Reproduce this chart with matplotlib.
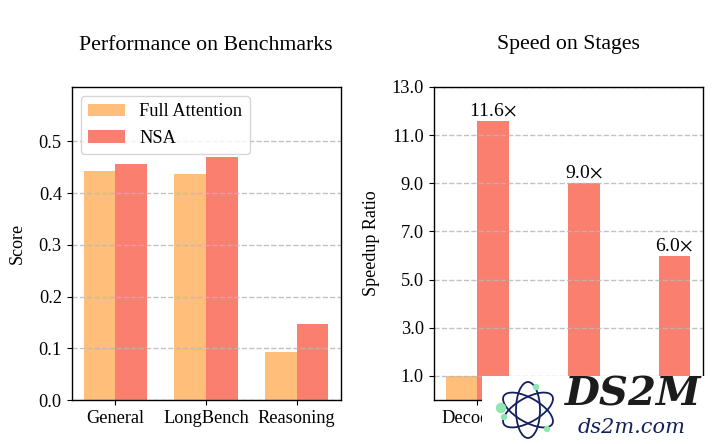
import numpy as np
import matplotlib
matplotlib.use('Agg')
import matplotlib.pyplot as plt
from matplotlib.patches import Ellipse, Circle

plt.rcParams['font.family'] = ['Liberation Serif', 'DejaVu Serif']
plt.rcParams['mathtext.fontset'] = 'stix'

# left panel
bench_names = ['General', 'LongBench', 'Reasoning']
bench_full = [0.443, 0.437, 0.092]
bench_nsa = [0.456, 0.469, 0.146]

# right panel, the 2nd and 3rd tick labels are hidden under the logo
stage_names = ['Decoding', '', '']
stage_full = [1.0, 1.0, 1.0]
stage_nsa = [11.6, 9.0, 6.0]
stage_ticks = [1, 3, 5, 7, 9, 11, 13]

orange = '#FFBE7A'
red = '#FA7F6F'
width = 0.35
W, H = 720, 444


def box(x0, x1, y_top, y_bot):
    return [x0 / W, 1 - y_bot / H, (x1 - x0) / W, (y_bot - y_top) / H]


def style(ax, title, ylabel, labelpad):
    ax.set_title(title, fontsize=15.7, pad=27)
    ax.set_ylabel(ylabel, fontsize=13, labelpad=labelpad)
    ax.tick_params(labelsize=13.2)
    ax.grid(axis='y', linestyle='--', color='#b8b8b8', alpha=0.85, linewidth=1)
    for s in ax.spines.values():
        s.set_linewidth(1.0)


fig = plt.figure(figsize=(7.2, 4.44), dpi=100)

ax1 = fig.add_axes(box(71.5, 340.5, 87, 400))
x = np.arange(len(bench_names))
ax1.bar(x - width / 2, bench_full, width, color=orange, label='Full Attention')
ax1.bar(x + width / 2, bench_nsa, width, color=red, label='NSA')
ax1.set_xticks(x)
ax1.set_xticklabels(bench_names)
ax1.set_ylim(0, 0.605)
ax1.set_yticks([0.0, 0.1, 0.2, 0.3, 0.4, 0.5])
style(ax1, 'Performance on Benchmarks', 'Score', 9)
ax1.legend(loc='upper left', fontsize=13.2)

ax2 = fig.add_axes(box(433.5, 702.5, 87, 400))
x = np.arange(len(stage_names))
ax2.bar(x - width / 2, stage_full, width, color=orange)
bars = ax2.bar(x + width / 2, stage_nsa, width, color=red)
for b, v in zip(bars, stage_nsa):
    ax2.annotate('%.1f$\\times$' % v, (b.get_x() + b.get_width() / 2, v), xytext=(0, 1),
                 textcoords='offset points', ha='center', va='bottom', fontsize=14)
ax2.set_xticks(x)
ax2.set_xticklabels(stage_names)
ax2.set_ylim(0, 13)
ax2.set_yticks(stage_ticks)
ax2.set_yticklabels(['%.1f' % t for t in stage_ticks])
style(ax2, 'Speed on Stages', 'Speedup Ratio', 8)

# logo block over the bottom right corner
wm = fig.add_axes([482 / W, 0, 238 / W, 68 / H], zorder=10)
wm.set_xlim(482, 720)
wm.set_ylim(444, 376)
wm.axis('off')
wm.add_patch(plt.Rectangle((482, 376), 238, 68, color='white', zorder=0))
navy = '#14205c'
for ang in [-30, 30, 90]:
    wm.add_patch(Ellipse((528, 410), 56, 24, angle=ang, fill=False, ec=navy, lw=1.3))
for px, py, r in [(501, 408, 4.5), (504, 417, 2.5), (536, 387, 2.5), (547, 429, 2.5)]:
    wm.add_patch(Circle((px, py), r, color='#8ee6b0', zorder=3))
wm.text(633, 394, 'DS2M', fontsize=29, fontweight='bold', style='italic', color='#1c1c1c',
        ha='center', va='center', family=['DejaVu Serif'])
wm.text(632, 427, 'ds2m.com', fontsize=15, style='italic', color=navy,
        ha='center', va='center', family=['DejaVu Serif'])

fig.savefig('out.png', dpi=100)
